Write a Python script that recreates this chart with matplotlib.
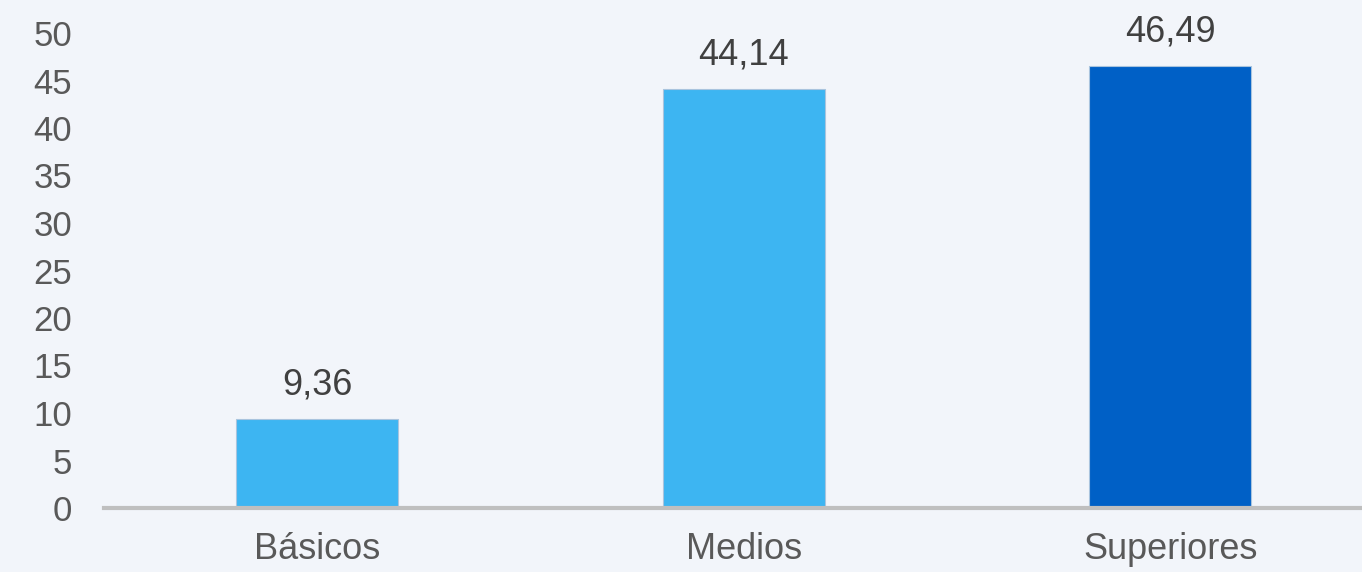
import matplotlib.pyplot as plt
import numpy as np

plt.rcParams['font.family'] = ['Liberation Sans', 'DejaVu Sans']

categorias = ["Básicos", "Medios", "Superiores"]
valores = [9.36, 44.14, 46.49]
etiquetas = ["9,36", "44,14", "46,49"]
colores = ["#3DB5F2", "#3DB5F2", "#0060C6"]

W, H = 1362, 572
fig = plt.figure(figsize=(W / 100, H / 100), dpi=100)
fig.patch.set_facecolor("#F2F5FA")
ax = fig.add_axes([104 / W, 1 - 508 / H, 1 - 104 / W, (508 - 33) / H])
ax.set_facecolor("#F2F5FA")

x_pos = np.arange(len(categorias))
ax.bar(x_pos, valores, width=0.38, color=colores, edgecolor="#A9C4DE", linewidth=0.8, zorder=2)

for x, v, t in zip(x_pos, valores, etiquetas):
    ax.annotate(t, (x, v), xytext=(0, 12), textcoords="offset points",
                ha="center", va="bottom", fontsize=26, color="#404040")

ax.set_xlim(-0.5, 2.45)
ax.set_ylim(0, 50)
ax.set_yticks(range(0, 51, 5))
ax.set_xticks(x_pos)
ax.set_xticklabels(categorias)
ax.tick_params(axis="y", length=0, pad=23, labelsize=25, labelcolor="#595959")
ax.tick_params(axis="x", length=0, pad=17, labelsize=26, labelcolor="#595959")

for s in ["top", "right", "left"]:
    ax.spines[s].set_visible(False)
ax.spines["bottom"].set_color("#BFBFBF")
ax.spines["bottom"].set_linewidth(3)
ax.spines["bottom"].set_zorder(3)

fig.savefig("out.png", dpi=100, facecolor=fig.get_facecolor())
